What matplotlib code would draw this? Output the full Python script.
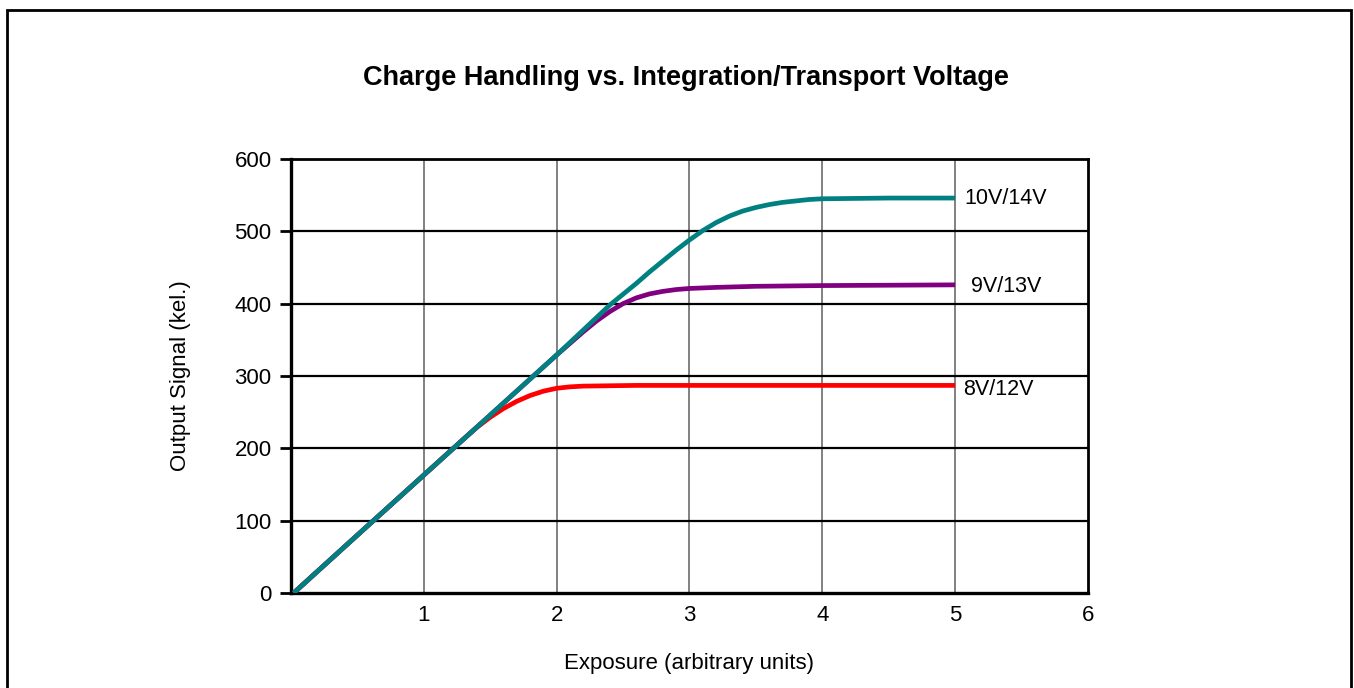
import matplotlib
matplotlib.use('Agg')
import matplotlib.pyplot as plt
from matplotlib.patches import Rectangle

plt.rcParams['font.family'] = ['Liberation Sans', 'DejaVu Sans']

# data
x_10v = [0.02, 0.5, 1.0, 1.5, 2.0, 2.4, 2.5, 2.6, 2.7, 2.8, 2.9, 3.0, 3.1, 3.2, 3.3,
         3.4, 3.5, 3.6, 3.7, 3.8, 3.9, 4.0, 4.5, 5.0]
y_10v = [0, 80, 163, 246, 329, 398, 413, 428, 444, 459, 474, 488, 501, 512, 521,
         528, 533, 537, 540, 542, 544, 545, 546, 546]

x_9v = [0.02, 0.5, 1.0, 1.5, 2.0, 2.1, 2.2, 2.3, 2.4, 2.5, 2.6, 2.7, 2.8, 2.9, 3.0,
        3.2, 3.5, 4.0, 5.0]
y_9v = [0, 80, 163, 246, 329, 345, 361, 376, 389, 400, 408, 413.5, 417, 419.5, 421,
        422.5, 424, 425, 426]

x_8v = [0.02, 0.5, 1.0, 1.3, 1.4, 1.5, 1.6, 1.7, 1.8, 1.9, 2.0, 2.1, 2.2, 2.4, 2.6,
        3.0, 4.0, 5.0]
y_8v = [0, 80, 163, 213, 229, 243, 255, 265, 273, 279, 283, 285, 286, 286.5, 287,
        287, 287, 287]

labels = ['10V/14V', '9V/13V', '8V/12V']
colors = ['#008080', '#800080', '#ff0000']
label_pos = [(5.07, 546), (5.12, 424), (5.06, 282)]

x_ticks = [1, 2, 3, 4, 5, 6]
y_ticks = [0, 100, 200, 300, 400, 500, 600]

fig = plt.figure(figsize=(13.54, 6.88), dpi=100)
fig.patches.append(Rectangle((0.0055, -0.05), 0.9925, 1.035, transform=fig.transFigure,
                             fill=False, edgecolor='black', linewidth=2))

ax = fig.add_axes([0.2149, 0.1381, 0.5886, 0.6308])

for xv in x_ticks[:-1]:
    ax.axvline(xv, color='#777777', linewidth=1.3, zorder=1)
for yv in y_ticks[1:-1]:
    ax.axhline(yv, color='black', linewidth=1.6, zorder=1)

ax.plot(x_8v, y_8v, color=colors[2], linewidth=3.4, zorder=3, solid_capstyle='butt')
ax.plot(x_9v, y_9v, color=colors[1], linewidth=3.4, zorder=4, solid_capstyle='butt')
ax.plot(x_10v, y_10v, color=colors[0], linewidth=3.4, zorder=5, solid_capstyle='butt')

for lab, (tx, ty) in zip(labels, label_pos):
    ax.text(tx, ty, lab, fontsize=15.5, va='center', ha='left')

ax.set_xlim(0, 6)
ax.set_ylim(0, 600)
ax.set_xticks(x_ticks)
ax.set_yticks(y_ticks)
ax.tick_params(axis='x', length=0, pad=9, labelsize=16)
ax.tick_params(axis='y', length=8, width=2, direction='out', pad=6, labelsize=16)

for side in ['left', 'bottom']:
    ax.spines[side].set_linewidth(2.4)
for side in ['top', 'right']:
    ax.spines[side].set_linewidth(2)

ax.set_xlabel('Exposure (arbitrary units)', fontsize=16, labelpad=19)
ax.set_ylabel('Output Signal (kel.)', fontsize=16, labelpad=31)

fig.text(0.5067, 0.886, 'Charge Handling vs. Integration/Transport Voltage',
         fontsize=19.5, fontweight='bold', ha='center', va='center')

fig.savefig('out.png', dpi=100)
